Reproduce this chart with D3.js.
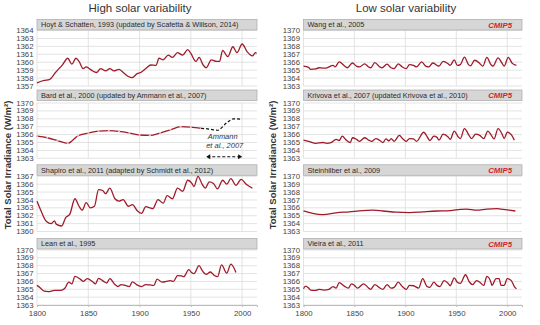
<!DOCTYPE html>
<html lang="en">
<head>
<meta charset="UTF-8">
<script src="https://d3js.org/d3.v7.min.js"></script>
<title>Total solar irradiance reconstructions</title>
<style>
  body { margin: 0; background: #fff; }
  svg { font-family: "Liberation Sans", Arial, sans-serif; }
  .grid line { stroke: #dcdcdc; stroke-width: 0.8px; }
  .tick-label { font-size: 7.8px; fill: #444; }
  .series { fill: none; stroke: #9e1b2a; stroke-width: 1.3px; }
</style>
</head>
<body>
<div id="chart"></div>
<script>
// ---- reconstructions, [year, W/m2] ----
const hoyt = [[1800,1357.4],[1807,1357.7],[1812,1357.8],[1818,1358.7],[1825,1359.7],[1830,1360.5],[1834,1359.75],[1838,1360.5],[1841,1360.1],[1845,1359.2],[1848,1359.4],[1853,1359.0],[1858,1358.7],[1862,1359.2],[1867,1358.9],[1871,1359.2],[1875,1358.9],[1880,1359.1],[1885,1358.6],[1889,1358.2],[1893,1358.05],[1897,1358.5],[1901,1358.7],[1906,1359.2],[1911,1359.65],[1916,1359.6],[1919,1360.5],[1923,1360.3],[1928,1360.9],[1932,1360.6],[1937,1361.2],[1942,1360.9],[1947,1361.6],[1950,1361.1],[1955,1360.1],[1958,1360.6],[1962,1359.65],[1965,1359.3],[1970,1360.3],[1975,1360.1],[1978,1360.1],[1981,1361.5],[1986,1360.7],[1991,1361.95],[1995,1361.2],[2000,1362.3],[2005,1361.3],[2010,1360.8],[2013,1361.2],[2014,1361.1]];

const bard = [[1800,1365.8],[1810,1365.6],[1820,1365.25],[1830,1364.9],[1840,1365.85],[1850,1366.2],[1860,1366.45],[1870,1366.5],[1880,1366.4],[1890,1366.2],[1900,1365.95],[1910,1365.9],[1920,1366.2],[1930,1366.6],[1940,1367.0],[1950,1366.95],[1960,1366.8]];
const ammann = [[1960,1366.8],[1968,1366.7],[1976,1366.55],[1985,1367.5],[1992,1368.0],[1998,1367.95]];

const shapiro = [[1800,1363.85],[1804,1362.6],[1809,1361.3],[1814,1361.0],[1817,1361.35],[1819,1360.9],[1824,1360.7],[1828,1361.75],[1832,1362.2],[1837,1364.15],[1841,1363.2],[1844,1362.7],[1848,1363.65],[1852,1363.0],[1856,1363.2],[1860,1365.3],[1864,1365.2],[1867,1364.8],[1871,1365.5],[1876,1364.15],[1880,1363.85],[1884,1364.05],[1889,1363.2],[1893,1363.4],[1898,1362.6],[1902,1362.3],[1906,1363.15],[1910,1363.0],[1913,1362.9],[1918,1364.05],[1923,1363.6],[1927,1364.55],[1932,1364.15],[1937,1365.5],[1942,1365.1],[1947,1366.5],[1951,1366.1],[1953,1365.7],[1957,1367.0],[1961,1366.0],[1964,1365.5],[1968,1366.3],[1972,1366.1],[1976,1365.4],[1981,1366.5],[1985,1366.0],[1989,1366.7],[1994,1365.85],[1999,1366.6],[2004,1366.0],[2008,1365.65],[2010,1365.5]];

const lean = [[1800,1365.5],[1803,1365.2],[1807,1364.76],[1811,1364.7],[1817,1364.85],[1823,1364.85],[1827,1365.1],[1831,1365.9],[1834,1365.7],[1837,1366.65],[1843,1366.2],[1845,1366.0],[1849,1366.35],[1854,1366.0],[1857,1365.7],[1860,1366.4],[1865,1366.0],[1868,1365.8],[1871,1366.35],[1876,1365.6],[1879,1365.35],[1882,1365.6],[1886,1365.5],[1890,1365.35],[1893,1365.95],[1897,1365.6],[1902,1365.35],[1906,1365.6],[1910,1365.55],[1914,1365.5],[1917,1366.3],[1922,1365.9],[1926,1366.0],[1930,1366.1],[1933,1366.0],[1937,1366.75],[1941,1366.7],[1943,1366.6],[1948,1367.5],[1951,1367.1],[1953,1367.0],[1958,1368.0],[1961,1367.4],[1965,1366.9],[1969,1367.2],[1973,1366.75],[1976,1366.6],[1980,1368.1],[1985,1367.05],[1989,1368.2],[1994,1367.15]];

const wang = [[1800,1365.5],[1805,1365.35],[1807,1365.1],[1812,1365.15],[1815,1365.3],[1820,1365.25],[1823,1365.3],[1829,1365.6],[1831,1365.4],[1835,1366.05],[1840,1365.55],[1843,1365.3],[1848,1365.9],[1852,1365.5],[1855,1365.4],[1860,1365.8],[1864,1365.4],[1866,1365.3],[1870,1365.95],[1875,1365.4],[1877,1365.3],[1882,1365.75],[1886,1365.3],[1889,1365.2],[1893,1365.8],[1897,1365.4],[1901,1365.2],[1904,1365.7],[1908,1365.6],[1911,1365.4],[1916,1366.05],[1920,1365.5],[1923,1365.4],[1927,1365.9],[1931,1365.6],[1933,1365.5],[1937,1366.1],[1942,1365.8],[1944,1365.6],[1948,1366.3],[1951,1365.6],[1954,1365.7],[1958,1366.65],[1962,1365.7],[1964,1365.55],[1968,1366.25],[1973,1365.85],[1976,1365.5],[1980,1366.6],[1984,1365.7],[1986,1365.5],[1991,1366.55],[1995,1365.85],[1997,1365.5],[2001,1366.6],[2005,1365.85],[2009,1365.6]];

const krivova = [[1800,1365.3],[1806,1365.1],[1812,1364.9],[1819,1365.0],[1823,1364.9],[1827,1364.97],[1832,1365.4],[1835,1365.25],[1838,1365.8],[1842,1365.3],[1846,1365.0],[1848,1365.6],[1852,1365.4],[1855,1365.15],[1860,1365.6],[1864,1365.3],[1867,1365.15],[1871,1365.5],[1875,1365.25],[1878,1365.0],[1881,1365.45],[1884,1365.2],[1886,1365.5],[1889,1365.15],[1894,1365.9],[1898,1365.4],[1901,1365.15],[1904,1365.5],[1908,1365.45],[1911,1365.15],[1918,1366.3],[1922,1365.6],[1924,1365.25],[1928,1365.8],[1931,1365.65],[1933,1365.3],[1937,1366.05],[1942,1365.7],[1944,1365.4],[1948,1366.45],[1952,1365.7],[1954,1365.5],[1958,1366.75],[1963,1365.8],[1965,1365.5],[1969,1366.05],[1973,1365.9],[1977,1365.5],[1981,1366.45],[1984,1366.0],[1987,1365.45],[1991,1366.75],[1995,1366.05],[1997,1365.5],[2000,1366.3],[2004,1366.0],[2007,1365.3]];

const steinhilber = [[1800,1365.62],[1809,1365.3],[1819,1365.15],[1832,1365.36],[1845,1365.5],[1858,1365.66],[1868,1365.7],[1878,1365.6],[1891,1365.45],[1904,1365.4],[1917,1365.5],[1931,1365.6],[1944,1365.65],[1954,1365.8],[1960,1365.85],[1970,1365.7],[1980,1365.85],[1990,1365.9],[1996,1365.8],[2008,1365.6]];

const vieira = [[1800,1365.06],[1802,1365.4],[1805,1365.15],[1807,1364.9],[1812,1364.85],[1815,1365.0],[1820,1364.9],[1825,1365.0],[1829,1365.35],[1832,1365.15],[1835,1365.84],[1840,1365.4],[1844,1365.15],[1847,1365.7],[1850,1365.5],[1853,1365.15],[1859,1365.7],[1864,1365.15],[1866,1365.0],[1870,1365.6],[1874,1365.25],[1878,1365.0],[1882,1365.6],[1886,1365.15],[1889,1365.25],[1893,1365.9],[1897,1365.35],[1901,1365.0],[1904,1365.5],[1908,1365.45],[1913,1365.15],[1917,1366.35],[1921,1365.4],[1924,1365.25],[1928,1365.9],[1931,1365.5],[1934,1365.35],[1938,1366.1],[1942,1365.75],[1944,1365.45],[1948,1366.45],[1951,1365.9],[1954,1365.75],[1959,1366.85],[1963,1365.9],[1966,1365.6],[1970,1366.1],[1973,1365.9],[1977,1365.5],[1980,1366.65],[1984,1365.9],[1985,1365.5],[1989,1366.35],[1992,1366.35],[1994,1365.5],[1997,1365.5],[2000,1366.35],[2004,1366.1],[2007,1365.35],[2009,1365.06]];

const yearTicks = [1800, 1850, 1900, 1950, 2000];
const yLabel = "Total Solar Irradiance (W/m\u00B2)";

// ---- layout ----
const W = 540, H = 325;
const svg = d3.select("#chart").append("svg").attr("width", W).attr("height", H);

const cols = [
  { x0: 37, x1: 257, title: "High solar variability", tx: 140, lx: 8 },
  { x0: 303.5, x1: 522, title: "Low solar variability", tx: 406, lx: 273 }
];
const rows = [
  { head: 19.5, top: 30.5, bottom: 86 },
  { head: 90, top: 103, bottom: 158.3 },
  { head: 164.8, top: 176.3, bottom: 231.5 },
  { head: 238.5, top: 250, bottom: 305 }
];

const panels = [
  { c: 0, r: 0, name: "Hoyt & Schatten, 1993 (updated by Scafetta & Willson, 2014)", data: hoyt, dom: [1357, 1364] },
  { c: 0, r: 1, name: "Bard et al., 2000 (updated by Ammann et al., 2007)", data: bard, dom: [1363, 1370], markers: true },
  { c: 0, r: 2, name: "Shapiro et al., 2011 (adapted by Schmidt et al., 2012)", data: shapiro, dom: [1360, 1367] },
  { c: 0, r: 3, name: "Lean et al., 1995", data: lean, dom: [1363, 1370] },
  { c: 1, r: 0, name: "Wang et al., 2005", data: wang, dom: [1363, 1370], cmip: true },
  { c: 1, r: 1, name: "Krivova et al., 2007 (updated Krivova et al., 2010)", data: krivova, dom: [1363, 1370], cmip: true },
  { c: 1, r: 2, name: "Steinhilber et al., 2009", data: steinhilber, dom: [1363, 1370], cmip: true },
  { c: 1, r: 3, name: "Vieira et al., 2011", data: vieira, dom: [1363, 1370], cmip: true }
];

// column titles and rotated axis labels
cols.forEach(col => {
  svg.append("text")
    .attr("x", col.tx).attr("y", 12)
    .attr("text-anchor", "middle")
    .style("font-size", "11.5px").style("fill", "#333")
    .text(col.title);

  svg.append("text")
    .attr("transform", `translate(${col.lx},165) rotate(-90)`)
    .attr("text-anchor", "middle")
    .attr("dy", "0.35em")
    .style("font-size", "9.5px").style("font-weight", "bold").style("fill", "#333")
    .text(yLabel);
});

panels.forEach(p => {
  const col = cols[p.c], row = rows[p.r];
  const x = d3.scaleLinear().domain([1800, 2014.5]).range([col.x0, col.x1]);
  const y = d3.scaleLinear().domain(p.dom).range([row.bottom, row.top]);
  const g = svg.append("g");

  // grid
  const grid = g.append("g").attr("class", "grid");
  grid.selectAll(".h").data(d3.range(p.dom[0], p.dom[1] + 1)).join("line")
    .attr("x1", col.x0).attr("x2", col.x1)
    .attr("y1", d => y(d)).attr("y2", d => y(d));
  grid.selectAll(".v").data(yearTicks).join("line")
    .attr("x1", d => x(d)).attr("x2", d => x(d))
    .attr("y1", row.top).attr("y2", row.bottom);

  // y tick labels
  g.selectAll(".yl").data(d3.range(p.dom[0], p.dom[1] + 1)).join("text")
    .attr("class", "tick-label")
    .attr("x", col.x0 - 3.5).attr("y", d => y(d))
    .attr("dy", "0.33em").attr("text-anchor", "end")
    .text(d => d);

  // header bar
  g.append("rect")
    .attr("x", col.x0).attr("y", row.head)
    .attr("width", col.x1 - col.x0).attr("height", 10.5)
    .attr("fill", "#d6d6d6").attr("stroke", "#a8a8a8").attr("stroke-width", 0.7);
  g.append("text")
    .attr("x", col.x0 + 4).attr("y", row.head + 5.4)
    .attr("dy", "0.35em")
    .style("font-size", "7.3px").style("fill", "#2a2a2a")
    .text(p.name);
  if (p.cmip) {
    g.append("text")
      .attr("x", col.x1 - 10).attr("y", row.head + 5.4)
      .attr("dy", "0.35em").attr("text-anchor", "end")
      .style("font-size", "7.8px").style("font-weight", "bold").style("font-style", "italic")
      .style("fill", "#d42424")
      .text("CMIP5");
  }

  const line = d3.line().x(d => x(d[0])).y(d => y(d[1])).curve(d3.curveMonotoneX);
  g.append("path").datum(p.data).attr("class", "series").attr("d", line);

  if (p.markers) {
    g.selectAll(".mk").data(p.data).join("circle")
      .attr("cx", d => x(d[0])).attr("cy", d => y(d[1])).attr("r", 1.1)
      .attr("fill", "#f0c0c6").attr("stroke", "none");

    // Ammann et al. extension
    g.append("path").datum(ammann)
      .attr("d", line)
      .attr("fill", "none").attr("stroke", "#111").attr("stroke-width", 1.2)
      .attr("stroke-dasharray", "3,2");
    g.append("text")
      .attr("x", x(1981)).attr("y", y(1365.5))
      .attr("text-anchor", "middle")
      .style("font-size", "7.5px").style("font-style", "italic").style("fill", "#333")
      .text("Ammann");
    g.append("text")
      .attr("x", x(1983)).attr("y", y(1364.25))
      .attr("text-anchor", "middle")
      .style("font-size", "7.5px").style("font-style", "italic").style("fill", "#333")
      .text("et al., 2007");
    const ay = y(1363.2);
    g.append("line")
      .attr("x1", x(1966)).attr("x2", x(1999))
      .attr("y1", ay).attr("y2", ay)
      .attr("stroke", "#111").attr("stroke-width", 1.1).attr("stroke-dasharray", "3,2");
    [[1965, 1], [2000, -1]].forEach(([yr, dir]) => {
      const ax = x(yr);
      g.append("path")
        .attr("d", `M${ax},${ay} l${dir * 4},-2.5 l0,5 z`)
        .attr("fill", "#111");
    });
  }

  // bottom axis on last row
  if (p.r === 3) {
    const axis = d3.axisBottom(x).tickValues(yearTicks).tickSize(2).tickFormat(d3.format("d"));
    const ag = g.append("g").attr("transform", `translate(0,${row.bottom})`).call(axis);
    ag.select(".domain").attr("stroke", "#bbb");
    ag.selectAll(".tick line").attr("stroke", "#bbb");
    ag.selectAll(".tick text").attr("class", "tick-label").attr("y", 5)
      .style("font-family", "inherit");
  }
});
</script>
</body>
</html>
